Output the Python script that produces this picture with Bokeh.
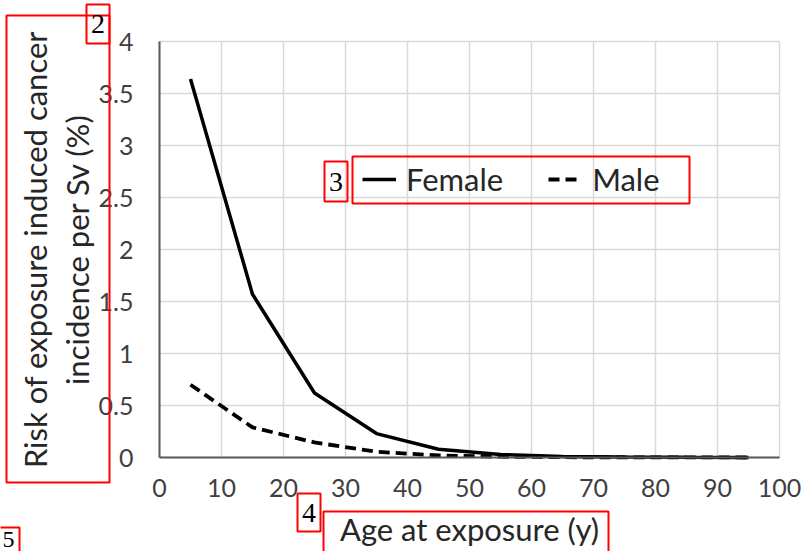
from bokeh.plotting import figure
from bokeh.models import Range1d, FixedTicker, BoxAnnotation, Label, Legend, LegendItem
from bokeh.embed import file_html
from bokeh.resources import INLINE

# Excess cancer incidence risk per sievert by age at exposure
ages = [5, 15, 25, 35, 45, 55, 65, 75, 85, 95]
female = [3.64, 1.57, 0.62, 0.23, 0.08, 0.028, 0.01, 0.004, 0.0015, 0.0005]
male = [0.70, 0.29, 0.145, 0.055, 0.02, 0.008, 0.003, 0.001, 0.0005, 0.0002]

x_ticks = [0, 10, 20, 30, 40, 50, 60, 70, 80, 90, 100]
y_ticks = [0, 0.5, 1, 1.5, 2, 2.5, 3, 3.5, 4]
y_tick_labels = ["0", "0.5", "1", "1.5", "2", "2.5", "3", "3.5", "4"]
X_MIN, X_MAX = 0, 100
Y_MIN, Y_MAX = 0, 4

W, H = 806, 551
# where the data area sits on the canvas (pixels from the top-left corner)
FL, FR, FT, FB = 159, 779, 41, 457

# The frame fills the whole canvas so the callouts around the axis titles
# can be drawn; the ranges are widened so the data area lands on FL..FR / FT..FB.
kx = (X_MAX - X_MIN) / (FR - FL)
ky = (Y_MAX - Y_MIN) / (FB - FT)
x_range = Range1d(X_MIN - FL * kx, X_MAX + (W - FR) * kx)
y_range = Range1d(Y_MIN - (H - FB) * ky, Y_MAX + FT * ky)

TEXT_FONT = "Lato"
TICK_COLOR = "#3f3f3f"
TITLE_COLOR = "#262626"

p = figure(width=W, height=H, output_backend="svg", toolbar_location=None,
           x_range=x_range, y_range=y_range,
           min_border_left=0, min_border_right=0,
           min_border_top=0, min_border_bottom=0)
p.outline_line_color = None
p.background_fill_color = "white"
p.border_fill_color = "white"

# axes pinned at the data origin
p.xaxis.fixed_location = Y_MIN
p.yaxis.fixed_location = X_MIN
p.xaxis.bounds = (X_MIN, X_MAX)
p.yaxis.bounds = (Y_MIN, Y_MAX)
p.xaxis.ticker = FixedTicker(ticks=x_ticks)
p.yaxis.ticker = FixedTicker(ticks=y_ticks)
p.yaxis.major_label_overrides = {t: s for t, s in zip(y_ticks, y_tick_labels)}
for ax in (p.xaxis, p.yaxis):
    ax.axis_line_color = "#595959"
    ax.axis_line_width = 2
    ax.major_tick_line_color = None
    ax.minor_tick_line_color = None
    ax.major_tick_out = 0
    ax.major_tick_in = 0
    ax.major_label_text_font = TEXT_FONT
    ax.major_label_text_font_size = "25px"
    ax.major_label_text_color = TICK_COLOR
    ax.axis_label_text_font = TEXT_FONT
    ax.axis_label_text_font_size = "31px"
    ax.axis_label_text_font_style = "normal"
    ax.axis_label_text_color = TITLE_COLOR
p.xaxis.major_label_standoff = 21
p.yaxis.major_label_standoff = 26
p.xaxis.axis_label = "Age at exposure (y)"
p.xaxis.axis_label_standoff = 10
p.yaxis.axis_label = "Risk of exposure induced cancer\nincidence per Sv (%)"
p.yaxis.axis_label_standoff = 0
p.yaxis.axis_label_text_line_height = 1.1

# grid limited to the data area
p.xgrid.ticker = FixedTicker(ticks=x_ticks)
p.ygrid.ticker = FixedTicker(ticks=y_ticks)
p.xgrid.bounds = (X_MIN, X_MAX)
p.xgrid.cross_bounds = (Y_MIN, Y_MAX)
p.ygrid.bounds = (Y_MIN, Y_MAX)
p.ygrid.cross_bounds = (X_MIN, X_MAX)
for g in (p.xgrid, p.ygrid):
    g.grid_line_color = "#d9d9d9"
    g.grid_line_width = 1.5

# series
r_f = p.line(ages, female, line_color="black", line_width=3.5)
r_m = p.line(ages, male, line_color="black", line_width=3.8, line_dash="11 6")

legend = Legend(items=[LegendItem(label="Female", renderers=[r_f]),
                       LegendItem(label="Male", renderers=[r_m])],
                orientation="horizontal", location=(362, H - 198),
                label_text_font=TEXT_FONT, label_text_font_size="31px",
                label_text_color=TITLE_COLOR,
                glyph_width=34, glyph_height=24, label_standoff=10, spacing=45,
                padding=0, margin=0, background_fill_alpha=0,
                border_line_alpha=0)
p.add_layout(legend, "center")

# red callout boxes and their tags, in canvas pixels from the top-left corner
boxes = [
    (6, 15, 109, 482),     # y-axis title
    (86, 4, 109, 43),      # tag 2
    (324, 161, 347, 201),  # tag 3
    (352, 156, 689, 203),  # legend
    (297, 493, 320, 531),  # tag 4
    (323, 511, 608, 580),  # x-axis title
    (-6, 527, 19, 580),    # tag 5
]
for l, t, r, b in boxes:
    p.add_layout(BoxAnnotation(left=l, right=r, top=H - t, bottom=H - b,
                               left_units="screen", right_units="screen",
                               top_units="screen", bottom_units="screen",
                               fill_alpha=0, line_color="red", line_alpha=1,
                               line_width=2))

tags = [("2", 97.5, 23.5, "28px"), ("3", 335.5, 181, "28px"),
        ("4", 308.5, 512, "28px"), ("5", 8, 539, "24px")]
for txt, cx, cy, size in tags:
    p.add_layout(Label(x=cx, y=H - cy, x_units="screen", y_units="screen",
                       text=txt, text_align="center", text_baseline="middle",
                       text_font="Liberation Serif", text_font_size=size,
                       text_color="black"))

open("out.html", "w").write(file_html(p, INLINE))
